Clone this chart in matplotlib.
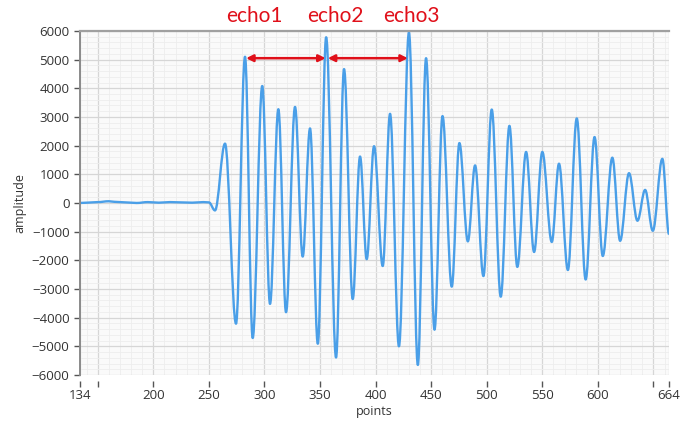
import matplotlib
matplotlib.use("Agg")
import matplotlib.pyplot as plt
from matplotlib.path import Path
from matplotlib.patches import PathPatch
from matplotlib.ticker import MultipleLocator

# waveform: baseline, then peaks / troughs
pts_x = [134, 140, 150, 160, 165, 175, 185, 195, 205, 215, 225, 235, 245, 250,
         255.5, 264.5, 274.4, 282.5, 289.4, 298, 305, 312.5, 319.4, 327.5,
         334.4, 341, 348, 355.5, 364.4, 371.6, 379.4, 386, 392, 398.6,
         406.4, 413, 421, 430, 438, 445.4, 453, 460.2, 468.5, 475.4,
         483, 489.5, 497, 504.5, 512.6, 520.4, 527.5, 535.4, 542.6, 550,
         558.5, 565, 573, 581, 589, 597, 604.4, 613, 620, 628,
         635.6, 642.5, 649.4, 658, 664]
amp = [0, 10, 30, 60, 40, 20, 0, 30, 10, 30, 20, 10, 30, 20,
       -260, 2070, -4210, 5100, -4710, 4080, -3520, 3270, -3810, 3350,
       -1870, 2600, -4910, 5780, -5390, 4670, -3350, 1620, -1960, 1980,
       -2200, 3110, -5000, 5950, -5650, 5050, -4420, 3030, -2920, 2090,
       -1340, 1310, -2550, 3260, -3270, 2690, -2230, 1780, -1710, 1780,
       -1360, 1370, -2340, 2950, -2670, 2300, -1850, 1580, -1320, 1040,
       -620, 456, -970, 1540, -1090]

xtick_vals = [134, 150, 200, 250, 300, 350, 400, 450, 500, 550, 600, 650, 664]
xtick_labels = ['134', '', '200', '250', '300', '350', '400', '450', '500',
                '550', '600', '', '664']
ytick_vals = list(range(-6000, 6001, 1000))

echo_names = ['echo1', 'echo2', 'echo3']
echo_label_x = [290.5, 363.5, 432]
arrow_x = [282.5, 356, 430]
arrow_y = 5050

plt.rcParams['font.family'] = ['Open Sans', 'DejaVu Sans']

fig = plt.figure(figsize=(6.93, 4.24), dpi=100)
ax = fig.add_axes([0.1154, 0.1156, 0.8500, 0.8114])
ax.set_facecolor('#fafafa')

# smooth line through the extrema (flat tangents at each turning point)
verts = [(pts_x[0], amp[0])]
codes = [Path.MOVETO]
for i in range(1, len(pts_x)):
    x0, y0 = pts_x[i - 1], amp[i - 1]
    x1, y1 = pts_x[i], amp[i]
    d = (x1 - x0) * 0.36
    verts += [(x0 + d, y0), (x1 - d, y1), (x1, y1)]
    codes += [Path.CURVE4] * 3
ax.add_patch(PathPatch(Path(verts, codes), fill=False, edgecolor='#4a9fe8',
                       lw=1.7, joinstyle='round'))

ax.set_xlim(134, 664)
ax.set_ylim(-6000, 6000)
ax.set_xticks(xtick_vals)
ax.set_xticklabels(xtick_labels)
ax.set_yticks(ytick_vals)
ax.xaxis.set_minor_locator(MultipleLocator(10))
ax.yaxis.set_minor_locator(MultipleLocator(200))

ax.grid(which='major', color='#d6d6d6', lw=0.9)
ax.grid(which='minor', color='#ededed', lw=0.6)
ax.set_axisbelow(True)

ax.spines['right'].set_visible(False)
ax.spines['bottom'].set_position(('outward', 4))
ax.spines['bottom'].set_visible(False)
ax.spines['left'].set_color('#8a8a8a')
ax.spines['left'].set_linewidth(1.4)
ax.spines['top'].set_color('#a0a0a0')
ax.spines['top'].set_linewidth(1.6)

ax.tick_params(axis='both', which='major', labelsize=9.5, colors='#555555',
               labelcolor='#333333', length=4, width=1)
ax.tick_params(axis='x', pad=2)
ax.tick_params(which='minor', length=0)

ax.set_xlabel('points', fontsize=9, color='#333333', labelpad=2)
ax.set_ylabel('amplitude', fontsize=9, color='#333333', labelpad=4)

# echo labels and double arrows
for name, ex in zip(echo_names, echo_label_x):
    ax.text(ex, 6530, name, color='#e0101a', fontsize=15, ha='center',
            va='center', clip_on=False, family=['Lato', 'DejaVu Sans'])
for i in range(2):
    ax.annotate('', xy=(arrow_x[i + 1] - 1, arrow_y), xytext=(arrow_x[i] + 1, arrow_y),
                arrowprops=dict(arrowstyle='<|-|>', color='#e0101a', lw=1.8,
                                mutation_scale=10, shrinkA=0, shrinkB=0))

fig.savefig('out.png', dpi=100)
